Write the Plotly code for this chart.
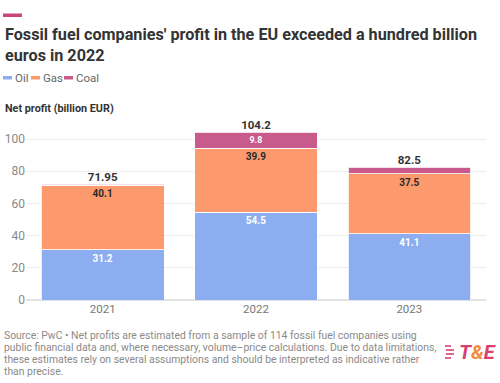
import plotly.graph_objects as go

years = ["2021", "2022", "2023"]
oil = [31.2, 54.5, 41.1]
gas = [40.1, 39.9, 37.5]
coal = [0.65, 9.8, 3.9]
totals = [71.95, 104.2, 82.5]
oil_labels = ["31.2", "54.5", "41.1"]
gas_labels = ["40.1", "39.9", "37.5"]
coal_labels = ["", "9.8", ""]
total_labels = ["71.95", "104.2", "82.5"]
y_ticks = [0, 20, 40, 60, 80, 100]

W, H = 500, 383
ML, MR, MT, MB = 26, 14, 123, 83
PW, PH = W - ML - MR, H - MT - MB


def px(x):
    return (x - ML) / PW


def py(y):
    return (H - MB - y) / PH


C_OIL = "#8cadf0"
C_GAS = "#fc9a6e"
C_COAL = "#c85a8c"
FONT = "Roboto"

fig = go.Figure()
for name, vals, labs, col, tcol in [
    ("Oil", oil, oil_labels, C_OIL, "white"),
    ("Gas", gas, gas_labels, C_GAS, "#2a2a2a"),
    ("Coal", coal, coal_labels, C_COAL, "white"),
]:
    fig.add_trace(go.Bar(
        name=name, x=years, y=vals,
        text=[f"<b>{t}</b>" if t else "" for t in labs],
        textposition="inside", insidetextanchor="end",
        textfont=dict(family=FONT, size=10, color=tcol),
        marker=dict(color=col, line=dict(color="white", width=0.8)),
        showlegend=False, hoverinfo="skip",
    ))

fig.add_trace(go.Scatter(
    x=years, y=totals, mode="text",
    text=[f"<b>{t}</b>" for t in total_labels],
    textposition="top center", cliponaxis=False,
    textfont=dict(family=FONT, size=11.5, color="#333333"),
    showlegend=False, hoverinfo="skip",
))

annotations = []

# title
annotations.append(dict(
    x=px(3), y=py(23), xref="paper", yref="paper", xanchor="left", yanchor="top",
    align="left", showarrow=False,
    text="<b>Fossil fuel companies' profit in the EU exceeded a hundred billion<br>euros in 2022</b>",
    font=dict(family=FONT, size=16.2, color="#333333")))

# legend text
for txt, xx in [("Oil", 13), ("Gas", 40.5), ("Coal", 74)]:
    annotations.append(dict(
        x=px(xx), y=py(78), xref="paper", yref="paper", xanchor="left", yanchor="middle",
        showarrow=False, text=txt, font=dict(family=FONT, size=11.5, color="#666666")))

annotations.append(dict(
    x=px(3), y=py(108.5), xref="paper", yref="paper", xanchor="left", yanchor="middle",
    showarrow=False, text="<b>Net profit (billion EUR)</b>",
    font=dict(family=FONT, size=10.8, color="#333333")))

foot = [
    "Source: PwC • Net profits are estimated from a sample of 114 fossil fuel companies using",
    "public financial data and, where necessary, volume–price calculations. Due to data limitations,",
    "these estimates rely on several assumptions and should be interpreted as indicative rather",
    "than precise.",
]
for i, line in enumerate(foot):
    annotations.append(dict(
        x=px(2), y=py(335 + i * 12.3), xref="paper", yref="paper", xanchor="left",
        yanchor="middle", showarrow=False, text=line,
        font=dict(family=FONT, size=10.4, color="#8a8a8a")))

annotations.append(dict(
    x=px(498), y=py(352), xref="paper", yref="paper", xanchor="right", yanchor="middle",
    showarrow=False,
    text="<b><i><span style='color:#d7416f'>T</span><span style='color:#f28b3c'>&amp;</span><span style='color:#d7416f'>E</span></i></b>",
    font=dict(family=FONT, size=20, color="#d7416f")))

shapes = [
    dict(type="rect", xref="paper", yref="paper", x0=px(3), x1=px(22), y0=py(17), y1=py(13.5),
         fillcolor="#c8467a", line=dict(width=0)),
]
for x0, col in [(3, C_OIL), (31, C_GAS), (64, C_COAL)]:
    shapes.append(dict(type="rect", xref="paper", yref="paper", x0=px(x0), x1=px(x0 + 9),
                       y0=py(79.5), y1=py(76), fillcolor=col, line=dict(width=0)))
for i, (a, b) in enumerate([(445, 451), (446, 454), (446, 454), (445, 451)]):
    yy = 346 + i * 4
    shapes.append(dict(type="line", xref="paper", yref="paper", x0=px(a), x1=px(b),
                       y0=py(yy), y1=py(yy), line=dict(color="#d7416f", width=1.6)))

fig.update_layout(
    width=W, height=H, barmode="stack", bargap=0.2,
    margin=dict(l=ML, r=MR, t=MT, b=MB, pad=0, autoexpand=False),
    paper_bgcolor="white", plot_bgcolor="white",
    font=dict(family=FONT),
    annotations=annotations, shapes=shapes, showlegend=False,
    xaxis=dict(type="category", range=[-0.5, 2.5], showgrid=False, showline=False, ticks="",
               automargin=False,
               tickfont=dict(family=FONT, size=11.5, color="#777777")),
    yaxis=dict(range=[0, 110], tickvals=y_ticks, showgrid=True, gridcolor="#ececec",
               gridwidth=1, zeroline=True, zerolinecolor="#e3e3e3", ticks="",
               automargin=False,
               tickfont=dict(family=FONT, size=12, color="#888888")),
)

fig.write_html("out.html", config={"displayModeBar": False},
               post_script="document.body.style.margin='0';")
